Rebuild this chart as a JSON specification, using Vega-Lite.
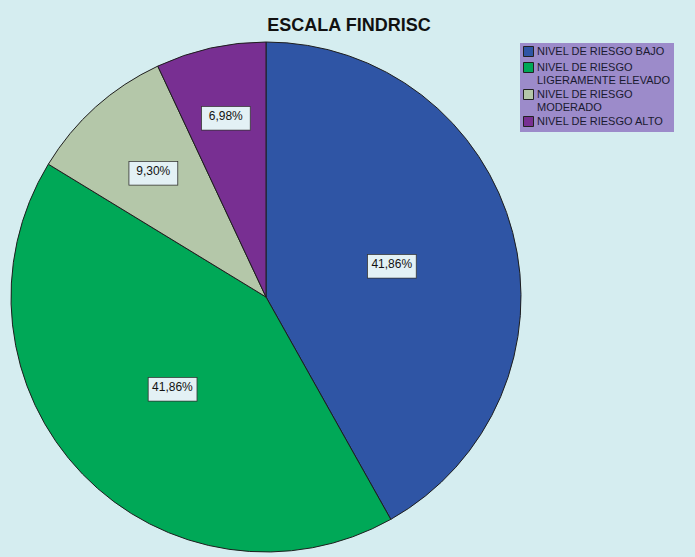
{
  "$schema": "https://vega.github.io/schema/vega-lite/v6.json",
  "width": 510,
  "height": 510,
  "autosize": {"type": "none"},
  "padding": {"left": 11, "top": 42, "right": 174, "bottom": 5},
  "background": "#d5edf0",
  "config": {"view": {"stroke": null}},
  "title": {
    "text": "ESCALA FINDRISC",
    "font": "Liberation Sans",
    "fontSize": 18,
    "fontWeight": "bold",
    "color": "#111111",
    "anchor": "middle",
    "dx": 83,
    "offset": 5
  },
  "data": {
    "values": [
      {"nivel": "NIVEL DE RIESGO BAJO", "count": 18, "pct": "41,86%", "orden": 1},
      {"nivel": "NIVEL DE RIESGO LIGERAMENTE ELEVADO", "count": 18, "pct": "41,86%", "orden": 2},
      {"nivel": "NIVEL DE RIESGO MODERADO", "count": 4, "pct": "9,30%", "orden": 3},
      {"nivel": "NIVEL DE RIESGO ALTO", "count": 3, "pct": "6,98%", "orden": 4}
    ]
  },
  "encoding": {
    "theta": {"field": "count", "type": "quantitative", "stack": true},
    "order": {"field": "orden", "type": "quantitative"},
    "detail": {"field": "nivel", "type": "nominal"}
  },
  "layer": [
    {
      "mark": {"type": "arc", "outerRadius": 255, "stroke": "#1e1e1e", "strokeWidth": 1},
      "encoding": {
        "color": {
          "field": "nivel",
          "type": "nominal",
          "scale": {
            "domain": ["NIVEL DE RIESGO BAJO", "NIVEL DE RIESGO LIGERAMENTE ELEVADO", "NIVEL DE RIESGO MODERADO", "NIVEL DE RIESGO ALTO"],
            "range": ["#2f55a5", "#00a857", "#b4c7a9", "#782f92"]
          },
          "legend": {
            "title": null,
            "orient": "none",
            "legendX": 509,
            "legendY": 1,
            "fillColor": "#9c8bca",
            "padding": 3,
            "symbolType": "square",
            "symbolSize": 100,
            "symbolStrokeColor": "#222222",
            "symbolStrokeWidth": 1,
            "symbolOpacity": 1,
            "labelFont": "Liberation Sans",
            "labelFontSize": 11,
            "labelColor": "#1a1a30",
            "labelLimit": 200,
            "labelOffset": 3,
            "rowPadding": 1,
            "labelExpr": "length(datum.label) > 20 ? [slice(datum.label, 0, 15), slice(datum.label, 16)] : datum.label"
          }
        }
      }
    },
    {
      "mark": {"type": "text", "radius": 130, "font": "DejaVu Sans", "fontSize": 64, "color": "#e3f1f5", "stroke": "#333333", "strokeWidth": 0.8, "baseline": "middle", "align": "center"},
      "encoding": {"text": {"condition": {"test": "datum.count >= 10", "value": "▬"}, "value": ""}}
    },
    {
      "mark": {"type": "text", "radius": 130, "font": "Liberation Sans", "fontSize": 12, "color": "#111111", "baseline": "middle", "align": "center"},
      "encoding": {"text": {"condition": {"test": "datum.count >= 10", "field": "pct", "type": "nominal"}, "value": ""}}
    },
    {
      "mark": {"type": "text", "radius": 169, "font": "DejaVu Sans", "fontSize": 64, "color": "#e3f1f5", "stroke": "#333333", "strokeWidth": 0.8, "baseline": "middle", "align": "center"},
      "encoding": {"text": {"condition": {"test": "datum.count == 4", "value": "▬"}, "value": ""}}
    },
    {
      "mark": {"type": "text", "radius": 169, "font": "Liberation Sans", "fontSize": 12, "color": "#111111", "baseline": "middle", "align": "center"},
      "encoding": {"text": {"condition": {"test": "datum.count == 4", "field": "pct", "type": "nominal"}, "value": ""}}
    },
    {
      "mark": {"type": "text", "radius": 185, "font": "DejaVu Sans", "fontSize": 64, "color": "#e3f1f5", "stroke": "#333333", "strokeWidth": 0.8, "baseline": "middle", "align": "center"},
      "encoding": {"text": {"condition": {"test": "datum.count == 3", "value": "▬"}, "value": ""}}
    },
    {
      "mark": {"type": "text", "radius": 185, "font": "Liberation Sans", "fontSize": 12, "color": "#111111", "baseline": "middle", "align": "center"},
      "encoding": {"text": {"condition": {"test": "datum.count == 3", "field": "pct", "type": "nominal"}, "value": ""}}
    }
  ]
}
